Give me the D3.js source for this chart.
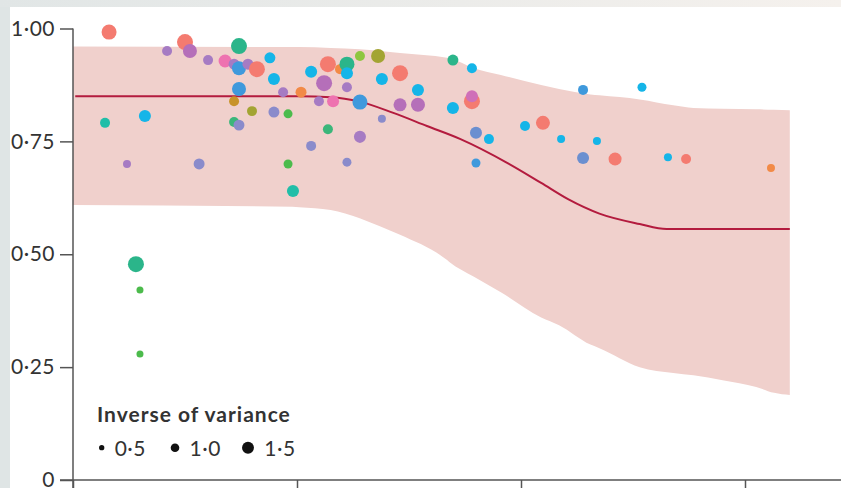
<!DOCTYPE html>
<html>
<head>
<meta charset="utf-8">
<script src="https://cdn.jsdelivr.net/npm/d3@7"></script>
<style>
  html, body { margin: 0; padding: 0; background: #fff; }
  svg { display: block; }
</style>
</head>
<body>
<svg id="chart" width="841" height="488"></svg>
<script>
// Axis ticks
const xTicks = [0, 10, 20, 30];
const yTicks = [0, 0.25, 0.5, 0.75, 1];

// Fitted curve (mean estimate)
const curveX = [0.1, 10.1, 11.5, 12.8, 14.3, 15.8, 17.3, 19.4, 20.9, 22.1, 23.5, 25.3, 26.5, 32.0];
const curveY = [0.850, 0.850, 0.848, 0.838, 0.813, 0.784, 0.755, 0.702, 0.658, 0.622, 0.590, 0.567, 0.556, 0.556];

// Uncertainty band: upper and lower limits
const bandX     = [0, 9.8, 10.1, 11.5, 12.8, 13.7, 14.6, 16.7, 16.8, 17.9, 19.1, 20.9, 21.7, 23.1, 23.5, 25.3, 26.8, 27.7, 29.0, 30.5, 31.3, 32.0];
const bandUpper = [0.960, 0.959, 0.959, 0.957, 0.954, 0.950, 0.946, 0.935, 0.934, 0.912, 0.897, 0.875, 0.866, 0.854, 0.852, 0.843, 0.830, 0.824, 0.822, 0.821, 0.820, 0.819];
const bandLower = [0.609, 0.605, 0.604, 0.598, 0.580, 0.562, 0.543, 0.487, 0.483, 0.450, 0.416, 0.360, 0.343, 0.300, 0.292, 0.250, 0.237, 0.232, 0.221, 0.206, 0.193, 0.188];

// Study estimates: position, inverse-variance weight, colour group
const studyX = [1.61, 5.0, 5.22, 4.20, 7.41, 6.03, 6.79, 7.19, 7.41, 7.81, 8.21, 8.79, 8.97, 7.41, 9.38, 10.18, 7.19, 7.99, 8.97, 9.60,
                7.19, 7.41, 1.43, 3.21, 2.41, 5.63, 9.60, 12.23, 9.82, 2.81, 2.99, 2.99, 10.63, 11.38, 11.92, 12.23, 12.23, 11.21, 12.23, 10.98,
                11.61, 12.81, 12.81, 13.62, 13.79, 14.60, 15.40, 14.60, 15.40, 13.79, 11.38, 12.81, 10.63, 16.96, 17.81, 17.81, 17.81, 16.96, 17.99, 18.57,
                17.99, 20.18, 20.98, 21.79, 23.39, 22.77, 22.77, 24.20, 25.40, 26.56, 27.37, 31.16];
const studyY = [0.992, 0.970, 0.950, 0.950, 0.961, 0.930, 0.928, 0.921, 0.912, 0.921, 0.910, 0.935, 0.888, 0.866, 0.859, 0.859, 0.839, 0.817, 0.815, 0.811,
                0.793, 0.786, 0.791, 0.806, 0.700, 0.700, 0.700, 0.704, 0.640, 0.478, 0.421, 0.279, 0.904, 0.921, 0.910, 0.921, 0.901, 0.879, 0.870, 0.839,
                0.839, 0.837, 0.939, 0.939, 0.888, 0.901, 0.864, 0.831, 0.831, 0.800, 0.777, 0.760, 0.740, 0.930, 0.912, 0.839, 0.850, 0.824, 0.769, 0.755,
                0.702, 0.784, 0.791, 0.755, 0.751, 0.864, 0.713, 0.711, 0.870, 0.715, 0.711, 0.691];
const studyW = [1.97, 2.12, 1.82, 1.21, 2.12, 1.21, 1.67, 1.36, 1.82, 1.36, 2.12, 1.36, 1.52, 1.82, 1.21, 1.36, 1.21, 1.21, 1.36, 1.06,
                1.21, 1.36, 1.21, 1.52, 0.91, 1.36, 1.06, 1.06, 1.52, 2.12, 0.76, 0.76, 1.52, 2.12, 1.21, 1.97, 1.52, 2.12, 1.21, 1.21,
                1.52, 1.97, 1.21, 1.82, 1.52, 2.12, 1.52, 1.67, 1.82, 0.91, 1.21, 1.52, 1.21, 1.36, 1.21, 2.12, 1.52, 1.52, 1.52, 1.21,
                1.06, 1.21, 1.82, 0.91, 0.91, 1.21, 1.52, 1.67, 1.06, 0.91, 1.21, 0.91];
const studyGroup = ["salmon", "salmon", "magenta", "lilac", "emerald", "lilac", "pink", "lilac", "blue", "lilac", "salmon", "cyan", "cyan", "blue", "lilac", "orange", "gold", "olive", "slate", "green",
                    "jade", "slate", "teal", "cyan", "lilac", "slate", "green", "slate", "teal", "emerald", "green", "green", "cyan", "salmon", "orange", "emerald", "cyan", "magenta", "lilac", "lilac",
                    "pink", "blue", "lime", "olive", "cyan", "salmon", "cyan", "magenta", "magenta", "slate", "jade", "lilac", "slate", "emerald", "cyan", "salmon", "orchid", "cyan", "steel", "cyan",
                    "blue", "cyan", "salmon", "cyan", "cyan", "blue", "steel", "salmon", "cyan", "cyan", "salmon", "orange"];

const groupNames  = ["salmon", "magenta", "lilac", "emerald", "pink", "blue", "cyan", "orange", "gold", "olive", "slate", "green", "jade", "teal", "lime", "orchid", "steel"];
const groupColors = ["#f47b70", "#b56fb9", "#a67bc3", "#2bb58a", "#ee72b0", "#3f99dc", "#15b5e8", "#f28a47", "#c8932a", "#a3a433", "#8a8bcb", "#4cbb4c", "#3bb67a", "#21bea8", "#8ec63f", "#cf6fb8", "#6b8fd0"];

// Legend sizes
const legendW = [0.5, 1.0, 1.5];
const legendLabels = ["0·5", "1·0", "1·5"];

const svg = d3.select("#chart");
const W = 841, H = 488;
const font = "Lato, 'Open Sans', sans-serif";

// page frame
const frame = svg.append("defs").append("linearGradient").attr("id", "topGrad");
frame.append("stop").attr("offset", "0%").attr("stop-color", "#e1e6e6");
frame.append("stop").attr("offset", "100%").attr("stop-color", "#f5f1ed");
svg.append("rect").attr("x", 0).attr("y", 0).attr("width", W).attr("height", H).attr("fill", "#dfe5e5");
svg.append("rect").attr("x", 0).attr("y", 0).attr("width", W).attr("height", 7).attr("fill", "url(#topGrad)");
svg.append("rect").attr("x", 10).attr("y", 7).attr("width", W - 10).attr("height", H - 7).attr("fill", "#ffffff");

const x = d3.scaleLinear().domain([0, 30]).range([73, 745]);
const y = d3.scaleLinear().domain([0, 1]).range([480, 28.5]);
const r = d3.scaleLinear().domain([0.5, 1.5]).range([2.65, 5.95]);
const color = d3.scaleOrdinal().domain(groupNames).range(groupColors);

// band
const bandData = bandX.map((v, i) => ({ x: v, lo: bandLower[i], hi: bandUpper[i] }));
svg.append("path")
  .datum(bandData)
  .attr("fill", "#f0d0cc")
  .attr("d", d3.area().x(d => x(d.x)).y0(d => y(d.lo)).y1(d => y(d.hi)).curve(d3.curveMonotoneX));

// fitted curve
const lineData = curveX.map((v, i) => ({ x: v, y: curveY[i] }));
svg.append("path")
  .datum(lineData)
  .attr("fill", "none")
  .attr("stroke", "#b31b3e")
  .attr("stroke-width", 2)
  .attr("d", d3.line().x(d => x(d.x)).y(d => y(d.y)).curve(d3.curveMonotoneX));

// study points
const pts = studyX.map((v, i) => ({ x: v, y: studyY[i], w: studyW[i], g: studyGroup[i] }));
svg.append("g").selectAll("circle").data(pts).join("circle")
  .attr("cx", d => x(d.x))
  .attr("cy", d => y(d.y))
  .attr("r", d => r(d.w))
  .attr("fill", d => color(d.g));

// axes
const axisColor = "#555";
const yAxis = svg.append("g")
  .attr("transform", `translate(${x(0)},0)`)
  .call(d3.axisLeft(y).tickValues(yTicks).tickSize(13).tickPadding(5)
    .tickFormat(d => d === 0 ? "0" : d3.format(".2f")(d).replace(".", "·")));
yAxis.select(".domain").attr("d", `M0,${y(1)}V${H + 2}`);
yAxis.selectAll("line, .domain").attr("stroke", axisColor).attr("stroke-width", 1.5);
yAxis.selectAll("text").attr("font-family", font).attr("font-size", 21)
  .attr("letter-spacing", 0.5).attr("fill", "#333");

const xAxis = svg.append("g")
  .attr("transform", `translate(0,${y(0)})`)
  .call(d3.axisBottom(x).tickValues(xTicks).tickSize(12).tickFormat(() => ""));
xAxis.select(".domain").attr("d", `M${x(0) - 13},0H${W}`);
xAxis.selectAll("line, .domain").attr("stroke", axisColor).attr("stroke-width", 1.5);

// legend
const lg = svg.append("g").attr("font-family", font).attr("fill", "#333");
lg.append("text").attr("x", 97).attr("y", 422).attr("font-size", 21).attr("font-weight", 700)
  .attr("letter-spacing", 1).text("Inverse of variance");
const legX = [101.7, 175, 248];
legendW.forEach((w, i) => {
  lg.append("circle").attr("cx", legX[i]).attr("cy", 447.7).attr("r", r(w)).attr("fill", "#111");
  lg.append("text").attr("x", legX[i] + 13 + (i === 0 ? 0 : r(w) - 2.7)).attr("y", 456)
    .attr("font-size", 21).attr("letter-spacing", 0.5).text(legendLabels[i]);
});
</script>
</body>
</html>
